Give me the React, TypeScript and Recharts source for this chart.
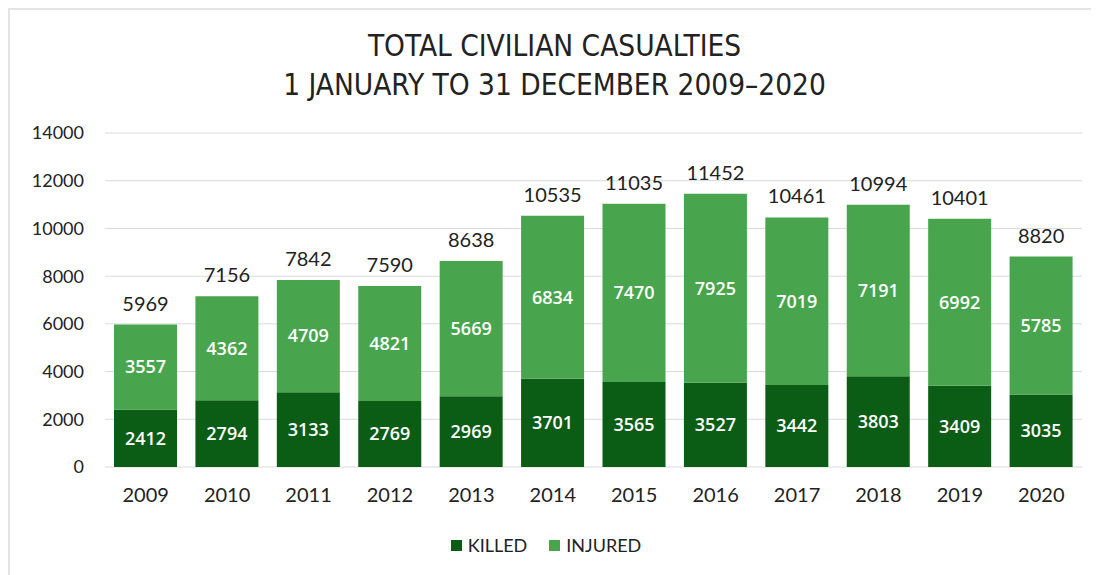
import { BarChart, Bar, XAxis, YAxis, CartesianGrid, Legend, LabelList } from 'recharts';

const years = ['2009', '2010', '2011', '2012', '2013', '2014', '2015', '2016', '2017', '2018', '2019', '2020'];
const killed = [2412, 2794, 3133, 2769, 2969, 3701, 3565, 3527, 3442, 3803, 3409, 3035];
const injured = [3557, 4362, 4709, 4821, 5669, 6834, 7470, 7925, 7019, 7191, 6992, 5785];
const totals = [5969, 7156, 7842, 7590, 8638, 10535, 11035, 11452, 10461, 10994, 10401, 8820];
const yTicks = [0, 2000, 4000, 6000, 8000, 10000, 12000, 14000];
const seriesOrder = ['KILLED', 'INJURED'];

const DARK = '#0b5c15';
const LIGHT = '#48a54d';
const FONT = 'Lato, "Noto Sans", sans-serif';

const data = years.map((y, i) => ({ year: y, killed: killed[i], injured: injured[i], total: totals[i] }));

function LegendContent({ payload }: any) {
  const items = [...(payload || [])].sort((a: any, b: any) => seriesOrder.indexOf(a.value) - seriesOrder.indexOf(b.value));
  return (
    <div style={{ display: 'flex', justifyContent: 'center', gap: 22, fontFamily: FONT, fontSize: 18, color: '#222' }}>
      {items.map((p: any) => (
        <div key={p.value} style={{ display: 'flex', alignItems: 'center', gap: 6 }}>
          <span style={{ width: 11, height: 11, background: p.color, display: 'inline-block' }} />
          <span>{p.value}</span>
        </div>
      ))}
    </div>
  );
}

export default function App() {
  return (
    <div
      style={{
        position: 'relative',
        width: 1091,
        height: 567,
        borderTop: '2px solid #e4e4e4',
        borderLeft: '2px solid #e4e4e4',
        boxSizing: 'border-box',
        background: '#fff',
      }}
    >
      <div
        style={{
          position: 'absolute',
          top: 17,
          left: 0,
          width: 1089,
          textAlign: 'center',
          fontFamily: '"DejaVu Sans Condensed", "Liberation Sans Narrow", sans-serif',
          fontSize: 29.5,
          lineHeight: '39px',
          color: '#222',
          zIndex: 1,
        }}
      >
        <div>TOTAL CIVILIAN CASUALTIES</div>
        <div>1 JANUARY TO 31 DECEMBER 2009–2020</div>
      </div>
      <BarChart width={1089} height={565} data={data} margin={{ top: 123, right: 17, left: 0, bottom: 48 }} barSize={63}>
        <CartesianGrid stroke="#dadada" vertical={false} />
        <XAxis
          dataKey="year"
          axisLine={false}
          tickLine={false}
          height={30}
          tickMargin={15}
          tick={{ fontSize: 20, fill: '#222', fontFamily: FONT }}
        />
        <YAxis
          domain={[0, 14000]}
          ticks={yTicks}
          axisLine={false}
          tickLine={false}
          width={95}
          tickMargin={15}
          tick={{ fontSize: 18, fill: '#222', fontFamily: FONT }}
        />
        <Legend verticalAlign="bottom" height={30} wrapperStyle={{ bottom: 11 }} content={<LegendContent />} />
        <Bar dataKey="killed" name="KILLED" stackId="a" fill={DARK} isAnimationActive={false}>
          <LabelList
            dataKey="killed"
            position="center"
            fill="#fff"
            style={{ fontSize: 18, fontWeight: 600, fontFamily: '"Open Sans", sans-serif' }}
          />
        </Bar>
        <Bar dataKey="injured" name="INJURED" stackId="a" fill={LIGHT} isAnimationActive={false}>
          <LabelList
            dataKey="injured"
            position="center"
            fill="#fff"
            style={{ fontSize: 18, fontWeight: 600, fontFamily: '"Open Sans", sans-serif' }}
          />
          <LabelList
            dataKey="total"
            position="top"
            offset={14}
            fill="#222"
            style={{ fontSize: 20, fontFamily: FONT }}
          />
        </Bar>
      </BarChart>
    </div>
  );
}
